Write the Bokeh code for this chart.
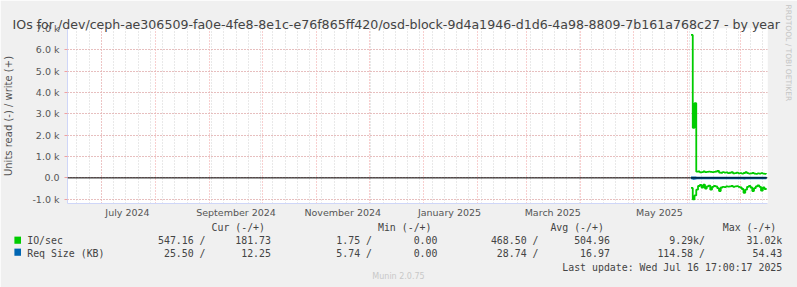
from math import pi
import pandas as pd
from bokeh.plotting import figure
from bokeh.models import (FixedTicker, Grid, Label, Title, Range1d, LinearAxis, Span)
from bokeh.embed import file_html
from bokeh.resources import INLINE

# ---------------- data ----------------
dates = [
    "2025-06-03", "2025-06-04", "2025-06-05", "2025-06-06", "2025-06-07", "2025-06-08",
    "2025-06-09", "2025-06-10", "2025-06-11", "2025-06-12", "2025-06-13", "2025-06-14",
    "2025-06-15", "2025-06-16", "2025-06-17", "2025-06-18", "2025-06-19", "2025-06-20",
    "2025-06-21", "2025-06-22", "2025-06-23", "2025-06-24", "2025-06-25", "2025-06-26",
    "2025-06-27", "2025-06-28", "2025-06-29", "2025-06-30", "2025-07-01", "2025-07-02",
    "2025-07-03", "2025-07-04", "2025-07-05", "2025-07-06", "2025-07-07", "2025-07-08",
    "2025-07-09", "2025-07-10", "2025-07-11", "2025-07-12", "2025-07-13", "2025-07-14",
    "2025-07-15", "2025-07-16",
]
io_write = [6700, 2350, 3500, 290, 300, 260, 270, 300, 270, 280, 290, 280, 270, 280,
            300, 330, 250, 240, 270, 250, 260, 220, 240, 270, 210, 220, 250, 210,
            220, 200, 230, 270, 220, 200, 210, 230, 200, 190, 210, 200, 220, 200,
            190, 182]
io_read = [470, 1010, 820, 550, 380, 330, 450, 320, 500, 400, 360, 550, 420, 380,
           400, 480, 620, 450, 420, 430, 400, 410, 400, 380, 420, 400, 390, 420,
           450, 520, 700, 550, 420, 380, 450, 620, 480, 400, 350, 420, 600, 450,
           520, 547]
req_write = [22, 30, 28, 15, 14, 15, 16, 14, 15, 14, 15, 16, 15, 14, 15, 16, 17, 15,
             14, 15, 14, 15, 14, 13, 15, 14, 13, 14, 15, 16, 18, 16, 15, 14, 15, 16,
             15, 14, 13, 14, 15, 13, 13, 12.25]
req_read = [30, 45, 38, 28, 26, 27, 29, 25, 28, 27, 26, 30, 28, 27, 29, 30, 32, 28,
            27, 28, 26, 27, 28, 26, 28, 27, 26, 28, 29, 31, 34, 30, 28, 27, 28, 31,
            29, 27, 26, 28, 30, 27, 28, 25.5]

series_names = ["IO/sec", "Req Size (KB)"]
series_colors = ["#00CC00", "#0066B3"]
cur_read = ["547.16 /", "25.50 /"]
cur_write = ["181.73", "12.25"]
min_read = ["1.75 /", "5.74 /"]
min_write = ["0.00", "0.00"]
avg_read = ["468.50 /", "28.74 /"]
avg_write = ["504.96", "16.97"]
max_read = ["9.29k/", "114.58 /"]
max_write = ["31.02k", "54.43"]
col_headers = ["Cur (-/+)", "Min (-/+)", "Avg (-/+)", "Max (-/+)"]

y_ticks = [-1000, 0, 1000, 2000, 3000, 4000, 5000, 6000, 7000]
y_tick_labels = ["-1.0 k", "0.0", "1.0 k", "2.0 k", "3.0 k", "4.0 k", "5.0 k", "6.0 k", "7.0 k"]
x_label_months = ["2024-07-01", "2024-09-01", "2024-11-01", "2025-01-01", "2025-03-01", "2025-05-01"]
x_label_texts = ["July 2024", "September 2024", "November 2024", "January 2025", "March 2025", "May 2025"]

title_text = ("IOs for /dev/ceph-ae306509-fa0e-4fe8-8e1c-e76f865ff420/"
              "osd-block-9d4a1946-d1d6-4a98-8809-7b161a768c27 - by year")
y_label_text = "Units read (-) / write (+)"
last_update = "Last update: Wed Jul 16 17:00:17 2025"
footer = "Munin 2.0.75"
watermark = "RRDTOOL / TOBI OETIKER"

# ---------------- setup ----------------
W, H = 797, 287
end = pd.Timestamp("2025-07-16 17:00:00")
start = end - pd.Timedelta(days=400)

def ms(t):
    return int(pd.Timestamp(t).value // 10**6)

t = pd.to_datetime(dates)

p = figure(width=W, height=H, output_backend="svg", toolbar_location=None,
           x_axis_type=None, y_axis_type=None,
           x_range=Range1d(ms(start), ms(end)), y_range=Range1d(-1200, 7000),
           min_border_left=67, min_border_right=30, min_border_top=28, min_border_bottom=84)
p.border_fill_color = "#F0F0F0"
p.background_fill_color = "#FFFFFF"
p.outline_line_color = None

AX = "#CFD6F8"
RED = "#F0A0A0"
GRAY = "#D2D2D2"
TXT = "#555555"

# grids
month_starts = [ms(d) for d in pd.date_range("2024-06-01", "2025-08-01", freq="MS")]
weeks = [ms(d) for d in pd.date_range("2024-06-03", "2025-07-28", freq="W-MON")]
xg = Grid(dimension=0, ticker=FixedTicker(ticks=month_starts, minor_ticks=weeks),
          grid_line_color=RED, grid_line_dash="1 2", grid_line_width=1,
          minor_grid_line_color=GRAY, minor_grid_line_dash="1 2")
y_minor = [v + 500 for v in range(-1500, 7000, 1000)] + list(range(-1000, 7001, 1000))
yg = Grid(dimension=1, ticker=FixedTicker(ticks=y_ticks, minor_ticks=y_minor),
          grid_line_color=RED, grid_line_dash="1 2", grid_line_width=1,
          minor_grid_line_color=GRAY, minor_grid_line_dash="1 2")
p.add_layout(xg)
p.add_layout(yg)

# axes
label_pos = [ms(pd.Timestamp(m) + pd.Timedelta(days=15)) for m in x_label_months]
xa = LinearAxis(ticker=FixedTicker(ticks=label_pos, minor_ticks=[]),
                major_label_overrides={k: v for k, v in zip(label_pos, x_label_texts)},
                axis_line_color=AX, major_tick_line_color=None, minor_tick_line_color=None,
                major_tick_out=0, major_tick_in=0,
                major_label_text_font="DejaVu Sans", major_label_text_font_size="9.5px",
                major_label_text_color=TXT, major_label_standoff=3)
p.add_layout(xa, "below")
ya = LinearAxis(ticker=FixedTicker(ticks=y_ticks, minor_ticks=[]),
                major_label_overrides={k: v for k, v in zip(y_ticks, y_tick_labels)},
                axis_line_color=AX, major_tick_line_color=RED, major_tick_out=3, major_tick_in=0,
                minor_tick_line_color=None,
                major_label_text_font="DejaVu Sans", major_label_text_font_size="9.5px",
                major_label_text_color=TXT, major_label_standoff=5,
                axis_label=y_label_text, axis_label_text_font="DejaVu Sans",
                axis_label_text_font_size="10px", axis_label_text_font_style="normal",
                axis_label_text_color=TXT, axis_label_standoff=15)
p.add_layout(ya, "left")

# data lines
p.step(t, [-v for v in req_read], mode="after", line_color=series_colors[1], line_width=1.6)
p.step(t, req_write, mode="after", line_color=series_colors[1], line_width=1.6)
p.step(t, [-v for v in io_read], mode="after", line_color=series_colors[0], line_width=1.8)
p.step(t, io_write, mode="after", line_color=series_colors[0], line_width=1.8)
p.add_layout(Span(location=0, dimension="width", line_color="black", line_width=1))

# ---------------- texts outside the frame ----------------
def canvas_label(x, y, text, panel, align="left", size="9.9px", font="DejaVu Sans Mono",
                 color="#444444", baseline="middle", **kw):
    p.add_layout(Label(x=x, y=y, x_units="canvas", y_units="canvas", text=text,
                       text_align=align, text_baseline=baseline, text_font_size=size,
                       text_font=font, text_color=color, **kw), panel)

# title
canvas_label(12, 24, title_text, "above", size="12.6px", font="DejaVu Sans",
             color="#444444", baseline="alphabetic")

# legend block (monospace, columns counted in characters, non-breaking padding)
NB = "\u00a0"

def put(buf, col, s):
    for k, ch in enumerate(s):
        buf[col + k] = NB if ch == " " else ch

width_chars = 128
header = [NB] * width_chars
for col, h in zip([31, 59, 88, 117], col_headers):
    put(header, col, h)
lines = ["".join(header).rstrip(NB)]
read_end = [30, 58, 86, 114]
write_end = [41, 69, 98, 127]
for i, name in enumerate(series_names):
    buf = [NB] * width_chars
    put(buf, 0, name)
    reads = [cur_read[i], min_read[i], avg_read[i], max_read[i]]
    writes = [cur_write[i], min_write[i], avg_write[i], max_write[i]]
    for e, s in zip(read_end, reads):
        put(buf, e - len(s), s)
    for e, s in zip(write_end, writes):
        put(buf, e - len(s), s)
    lines.append("".join(buf).rstrip(NB))
buf = [NB] * width_chars
put(buf, 127 - len(last_update), last_update)
lines.append("".join(buf).rstrip(NB))
canvas_label(26.7, 221.6, "\n".join(lines), "below", baseline="top")
canvas_label(398, 276, footer, "below", align="center", size="8px", font="DejaVu Sans",
             color="#C8C8C8")

# legend colour squares
row_y = [239.7, 251.7]
for i in range(len(series_names)):
    canvas_label(17.2, row_y[i], " ", "right", align="center", size="1px",
                 background_fill_color=series_colors[i], background_fill_alpha=1.0, padding=3)

# watermark
p.add_layout(Title(text=watermark, align="left", offset=-24, standoff=4,
                   text_font="DejaVu Sans", text_font_size="7.5px", text_font_style="normal",
                   text_color="#C4C4C4"), "right")

open("out.html", "w").write(file_html(p, INLINE))
